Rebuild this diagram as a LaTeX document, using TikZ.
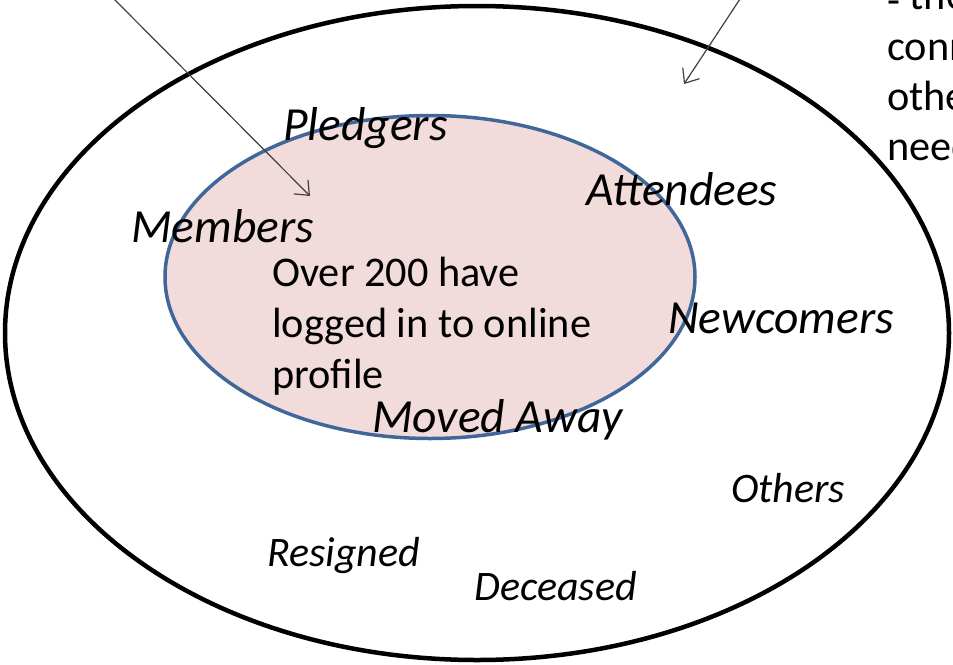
\documentclass[tikz,border=0pt]{standalone}
\usepackage{fontspec}
\setmainfont{Carlito}
\usetikzlibrary{arrows.meta,shapes.geometric}

\definecolor{memfill}{HTML}{F2DCDB}
\definecolor{memline}{HTML}{41679A}
\definecolor{ptrline}{HTML}{404040}

\begin{document}
\begin{tikzpicture}[x=1pt,y=-1pt,
    grp/.style={anchor=base west,inner sep=0,font=\fontsize{47.5}{57}\selectfont\itshape},
    sub/.style={anchor=base west,inner sep=0,font=\fontsize{42}{50}\selectfont\itshape},
    txt/.style={anchor=base west,inner sep=0,font=\fontsize{42.3}{51}\selectfont},
    pointer/.style={draw=ptrline,line width=1.2pt,-{Straight Barb[length=12pt,width=20pt]}}]
  \useasboundingbox (0,0) rectangle (953,664);
  \clip (0,0) rectangle (953,664);

  %% outer set and the members set
  \node (OUTR) at (477,333) [ellipse,draw,line width=4.5pt,inner sep=0,
        minimum width=944pt,minimum height=654pt] {};
  \node (MEMB) at (430,277) [ellipse,draw=memline,fill=memfill,line width=3.5pt,inner sep=0,
        minimum width=530pt,minimum height=323pt] {};

  %% labels
  \node (PLDG) at (283,140) [grp] {Pledgers};
  \node (ATTD) at (586,205) [grp] {Attendees};
  \node (MEMS) at (131,242) [grp] {Members};
  \node (NEWC) at (668,333) [grp] {Newcomers};
  \node (MOVD) at (372,432) [grp] {Moved Away};
  \node (OTHR) at (731,502) [sub] {Others};
  \node (RESG) at (267,566) [sub] {Resigned};
  \node (DECS) at (474,600) [sub] {Deceased};

  \node (L1) at (272,286) [txt] {Over 200 have};
  \node (L2) at (272,337) [txt] {logged in to online};
  \node (L3) at (272,388) [txt] {profile};

  %% note at the right edge
  \node (N0) at (887,9)   [txt] {\raisebox{-5pt}{-} the};
  \node (N1) at (887,60)  [txt] {conn};
  \node (N2) at (887,110) [txt] {othe};
  \node (N3) at (887,160) [txt] {need};

  %% pointers from outside the picture
  \coordinate (P1S) at (112,-3);
  \coordinate (P1E) at (310,196);
  \coordinate (P2S) at (742,-4);
  \coordinate (P2E) at (684,84);
  \draw[pointer] (P1S) -- (P1E);
  \draw[pointer] (P2S) -- (P2E);
\end{tikzpicture}
\end{document}
